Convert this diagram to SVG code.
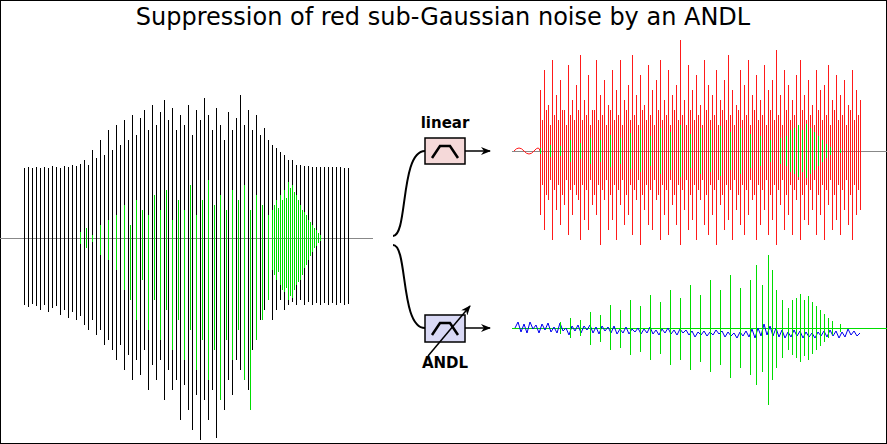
<svg xmlns="http://www.w3.org/2000/svg" width="887" height="444" viewBox="0 0 887 444">
<defs>
<marker id="ah" markerWidth="10" markerHeight="8" refX="9" refY="4" orient="auto" markerUnits="userSpaceOnUse"><path d="M0,0 L10,4 L0,8 L3,4 Z" fill="#000"/></marker>
</defs>
<style>
.w{fill:none;stroke-width:1;shape-rendering:crispEdges}
.k{stroke:#000}.g{stroke:#00dd00}.r{stroke:#ff1a1a}.b{stroke:#0000ee}
.c{fill:none;stroke:#000;stroke-width:2}
.t{font-family:"DejaVu Sans",sans-serif;fill:#000}
</style>
<rect x="0.5" y="0.5" width="886" height="443" fill="#fff" stroke="#000"/>
<text class="t" x="443" y="25" font-size="24" text-anchor="middle">Suppression of red sub-Gaussian noise by an ANDL</text>
<g id="input">
<line x1="0" y1="238.5" x2="373" y2="238.5" stroke="#888" class="w"/>
<path class="w k" stroke-width="2" d="M24,168V305M28,167V307M32,168V304M36,167V306M40,168V310M44,167V305M48,168V312M52,166V308M56,167V306M60,168V315M64,166V310M68,167V318M72,165V312M76,166V320M80,164V316M84,160V325M88,165V330M92,150V320M96,158V335M100,140V330M104,155V345M108,130V340M112,150V350M116,125V360M120,145V345M124,120V370M128,140V355M132,115V380M136,135V360M140,118V375M144,110V350M148,130V390M152,105V365M156,125V380M160,112V360M164,100V400M168,120V370M172,108V390M176,130V380M180,115V420M184,125V385M188,105V410M192,135V430M196,110V395M200,120V440M204,98V400M208,115V420M212,130V390M216,108V438M220,125V400M224,140V410M228,112V380M232,130V395M236,118V360M240,95V370M244,125V340M248,110V390M252,130V350M256,115V330M260,135V320M264,128V310M268,140V300M272,145V320M276,148V310M280,152V300M284,155V310M288,160V305M292,160V302M296,165V305M300,165V300M304,166V305M308,166V302M312,167V305M316,167V303M320,167V305M324,167V303M328,167V305M332,167V303M336,167V305M340,167V303M344,168V305M348,168V304"/>
<path class="w g" stroke-width="2" d="M80,232V244M86,228V248M92,235V242M100,225V255M108,220V260M116,215V270M124,205V290M130,225V300M136,200V320M142,210V280M148,215V330M154,195V300M160,210V340M166,190V310M172,220V350M178,200V320M184,210V360M190,185V330M196,215V370M202,200V340M208,180V380M214,205V350M220,195V400M226,210V340M232,190V360M238,200V330M244,185V380M250,210V410M256,195V340M262,205V320M268,215V300M272,210V270M274,205V275M276,200V280M278,208V272M280,195V285M282,200V290M284,190V292M286,198V288M288,182V300M290,188V296M292,185V298M294,192V290M296,195V285M298,200V282M300,205V280M302,210V275M304,212V268M306,215V265M308,220V260M310,222V256M312,225V252M314,228V248M316,230V246M318,233V243M320,235V241"/>
</g>
<g id="connectors">
<path class="c" d="M393,236 C408,236 400,151 425,151"/>
<path class="c" d="M393,245 C408,245 400,328 425,328"/>
<line x1="465" y1="151" x2="490" y2="151" stroke="#000" stroke-width="1.5" marker-end="url(#ah)"/>
<line x1="465" y1="328" x2="490" y2="328" stroke="#000" stroke-width="1.5" marker-end="url(#ah)"/>
</g>
<g id="linear">
<text class="t" x="445" y="128" font-size="15" font-weight="bold" text-anchor="middle">linear</text>
<rect x="425" y="138" width="40" height="26" fill="#f5d9d9" stroke="#000" stroke-width="1.5"/>
<path d="M432,158 L440,146 L450,146 L458,158" fill="none" stroke="#000" stroke-width="2.5"/>
</g>
<g id="andl">
<rect x="425" y="315" width="40" height="27" fill="#d9d9f5" stroke="#000" stroke-width="1.5"/>
<path d="M432,335 L440,323 L450,323 L458,335" fill="none" stroke="#000" stroke-width="2.5"/>
<line x1="428" y1="356" x2="470" y2="306" stroke="#000" stroke-width="1.5" marker-end="url(#ah)"/>
<text class="t" x="445" y="368" font-size="15" font-weight="bold" text-anchor="middle">ANDL</text>
</g>
<g id="linear-out">
<line x1="512" y1="151.5" x2="887" y2="151.5" stroke="#888" class="w"/>
<path fill="none" stroke="#ff1a1a" d="M514,151 q5,-6 10,0 t10,0 t6,0"/>
<path class="w r" d="M540,90V215M542,120V185M544,70V230M546,110V195M548,105V200M550,125V180M552,60V240M554,115V190M556,95V210M558,120V185M560,80V225M562,110V195M564,110V205M566,125V180M568,65V235M570,115V190M572,100V215M574,120V185M576,85V195M578,110V200M580,55V240M582,120V185M584,100V220M586,115V190M588,75V230M590,125V180M592,110V205M594,110V195M596,60V215M598,120V185M600,95V245M602,115V190M604,80V200M606,125V180M608,105V230M610,110V195M612,70V220M614,120V185M616,90V240M618,115V190M620,60V205M622,125V180M624,100V225M626,110V195M628,85V215M630,120V185M632,55V235M634,115V190M636,95V200M638,125V180M640,75V245M642,110V195M644,105V210M646,120V185M648,65V225M650,115V190M652,90V230M654,125V180M656,80V200M658,110V195M660,60V240M662,120V185M664,100V215M666,115V190M668,70V235M670,125V180M672,95V205M674,110V195M676,85V225M678,120V185M680,40V245M682,115V190M684,100V210M686,125V180M688,65V230M690,110V195M692,90V220M694,120V185M696,75V240M698,115V190M700,105V200M702,125V180M704,60V225M706,110V195M708,85V235M710,120V185M712,95V215M714,115V190M716,70V245M718,125V180M720,100V205M722,110V195M724,80V230M726,120V185M728,55V220M730,115V190M732,90V240M734,125V180M736,105V210M738,110V195M740,70V225M742,120V185M744,85V235M746,115V190M748,60V215M750,125V180M752,95V200M754,110V195M756,75V240M758,120V185M760,100V225M762,115V190M764,65V210M766,125V180M768,90V235M770,110V195M772,80V220M774,120V185M776,50V245M778,115V190M780,95V205M782,125V180M784,70V230M786,110V195M788,85V215M790,120V185M792,100V235M794,115V190M796,75V200M798,125V180M800,60V240M802,110V195M804,95V220M806,120V185M808,80V225M810,115V190M812,105V210M814,125V180M816,70V235M818,110V195M820,90V215M822,120V185M824,85V240M826,115V190M828,65V205M830,125V180M832,100V230M834,110V195M836,75V220M838,120V185M840,95V235M842,115V190M844,80V210M846,125V180M848,105V225M850,110V195M852,70V240M854,120V185M856,90V215M858,115V190M860,100V210"/>
<path class="w g" stroke-width="2" d="M540,148V154M550,145V157M560,146V156M570,140V162M580,143V159M590,138V164M600,140V162M610,135V167M620,138V164M630,133V169M640,130V172M650,136V166M660,128V174M670,132V170M680,125V177M690,134V168M700,128V174M710,130V172M720,126V176M730,132V170M740,128V174M750,134V168M760,136V166M770,140V162M780,138V164M786,136V166M790,130V172M794,128V174M798,125V177M802,130V172M806,124V178M810,128V174M814,132V170M818,136V166M822,140V162M826,144V158M830,147V155M840,149V153"/>
</g>
<g id="andl-out">
<line x1="512" y1="328.5" x2="887" y2="328.5" stroke="#00dd00" class="w"/>
<path fill="none" stroke="#0000ee" d="M515,328 l3,-6 3,10 3,-8 3,9 3,-11 3,7 3,-4 3,8 3,-9 3,6 3,-7 3,9 3,-5 3,6 3,-10 3,8 3,-3 3,7 3,-9 3,5 3,-6 3,8 3,-7 3,4 3,-5 3,8 3,-6 3,7 3,-8 3,5 3,-4 3,6 3,-7 3,8 3,-5 3,4 3,-6 3,7 3,-5 3,3 3,-4 3,6 3,-5 3,4 3,-6 3,7 3,-4 3,5 3,-6 3,4 3,-5 3,6 3,-4 3,5 3,-6 3,4 3,-3 3,5 3,-4 3,6 3,-5 3,3 3,-4 3,5 3,-4 3,3 3,-5 3,4 3,-3 3,6 3,-5 3,4 3,-3 3,5 3,-6 3,4 3,-5 3,6 3,-8 3,9 3,-10 3,8 3,-12 3,11 3,-9 3,10 3,-8 3,9 3,-7 3,8 3,-6 3,5 3,-7 3,6 3,-5 3,7 3,-6 3,5 3,-4 3,5 3,-6 3,4 3,-5 3,6 3,-7 3,6 3,-5 3,7 3,-6 3,5 3,-8 3,6 3,-4 3,5 3,-3"/>
<path class="w g" stroke-width="2" d="M560,322V334M570,318V338M580,320V336M590,312V345M600,315V342M610,305V350M620,310V348M630,300V355M640,306V352M650,295V360M660,302V354M670,290V365M680,298V360M690,285V370M700,295V362M710,280V372M720,290V365M730,275V378M740,288V368M750,280V375M756,265V385M762,285V372M768,255V405M772,270V380M776,290V368M782,300V358M788,308V350M792,300V355M796,298V358M800,294V362M804,300V356M808,296V360M812,302V354M816,306V350M820,310V346M824,314V342M828,318V338M832,321V335M840,324V332"/>
</g>
</svg>
